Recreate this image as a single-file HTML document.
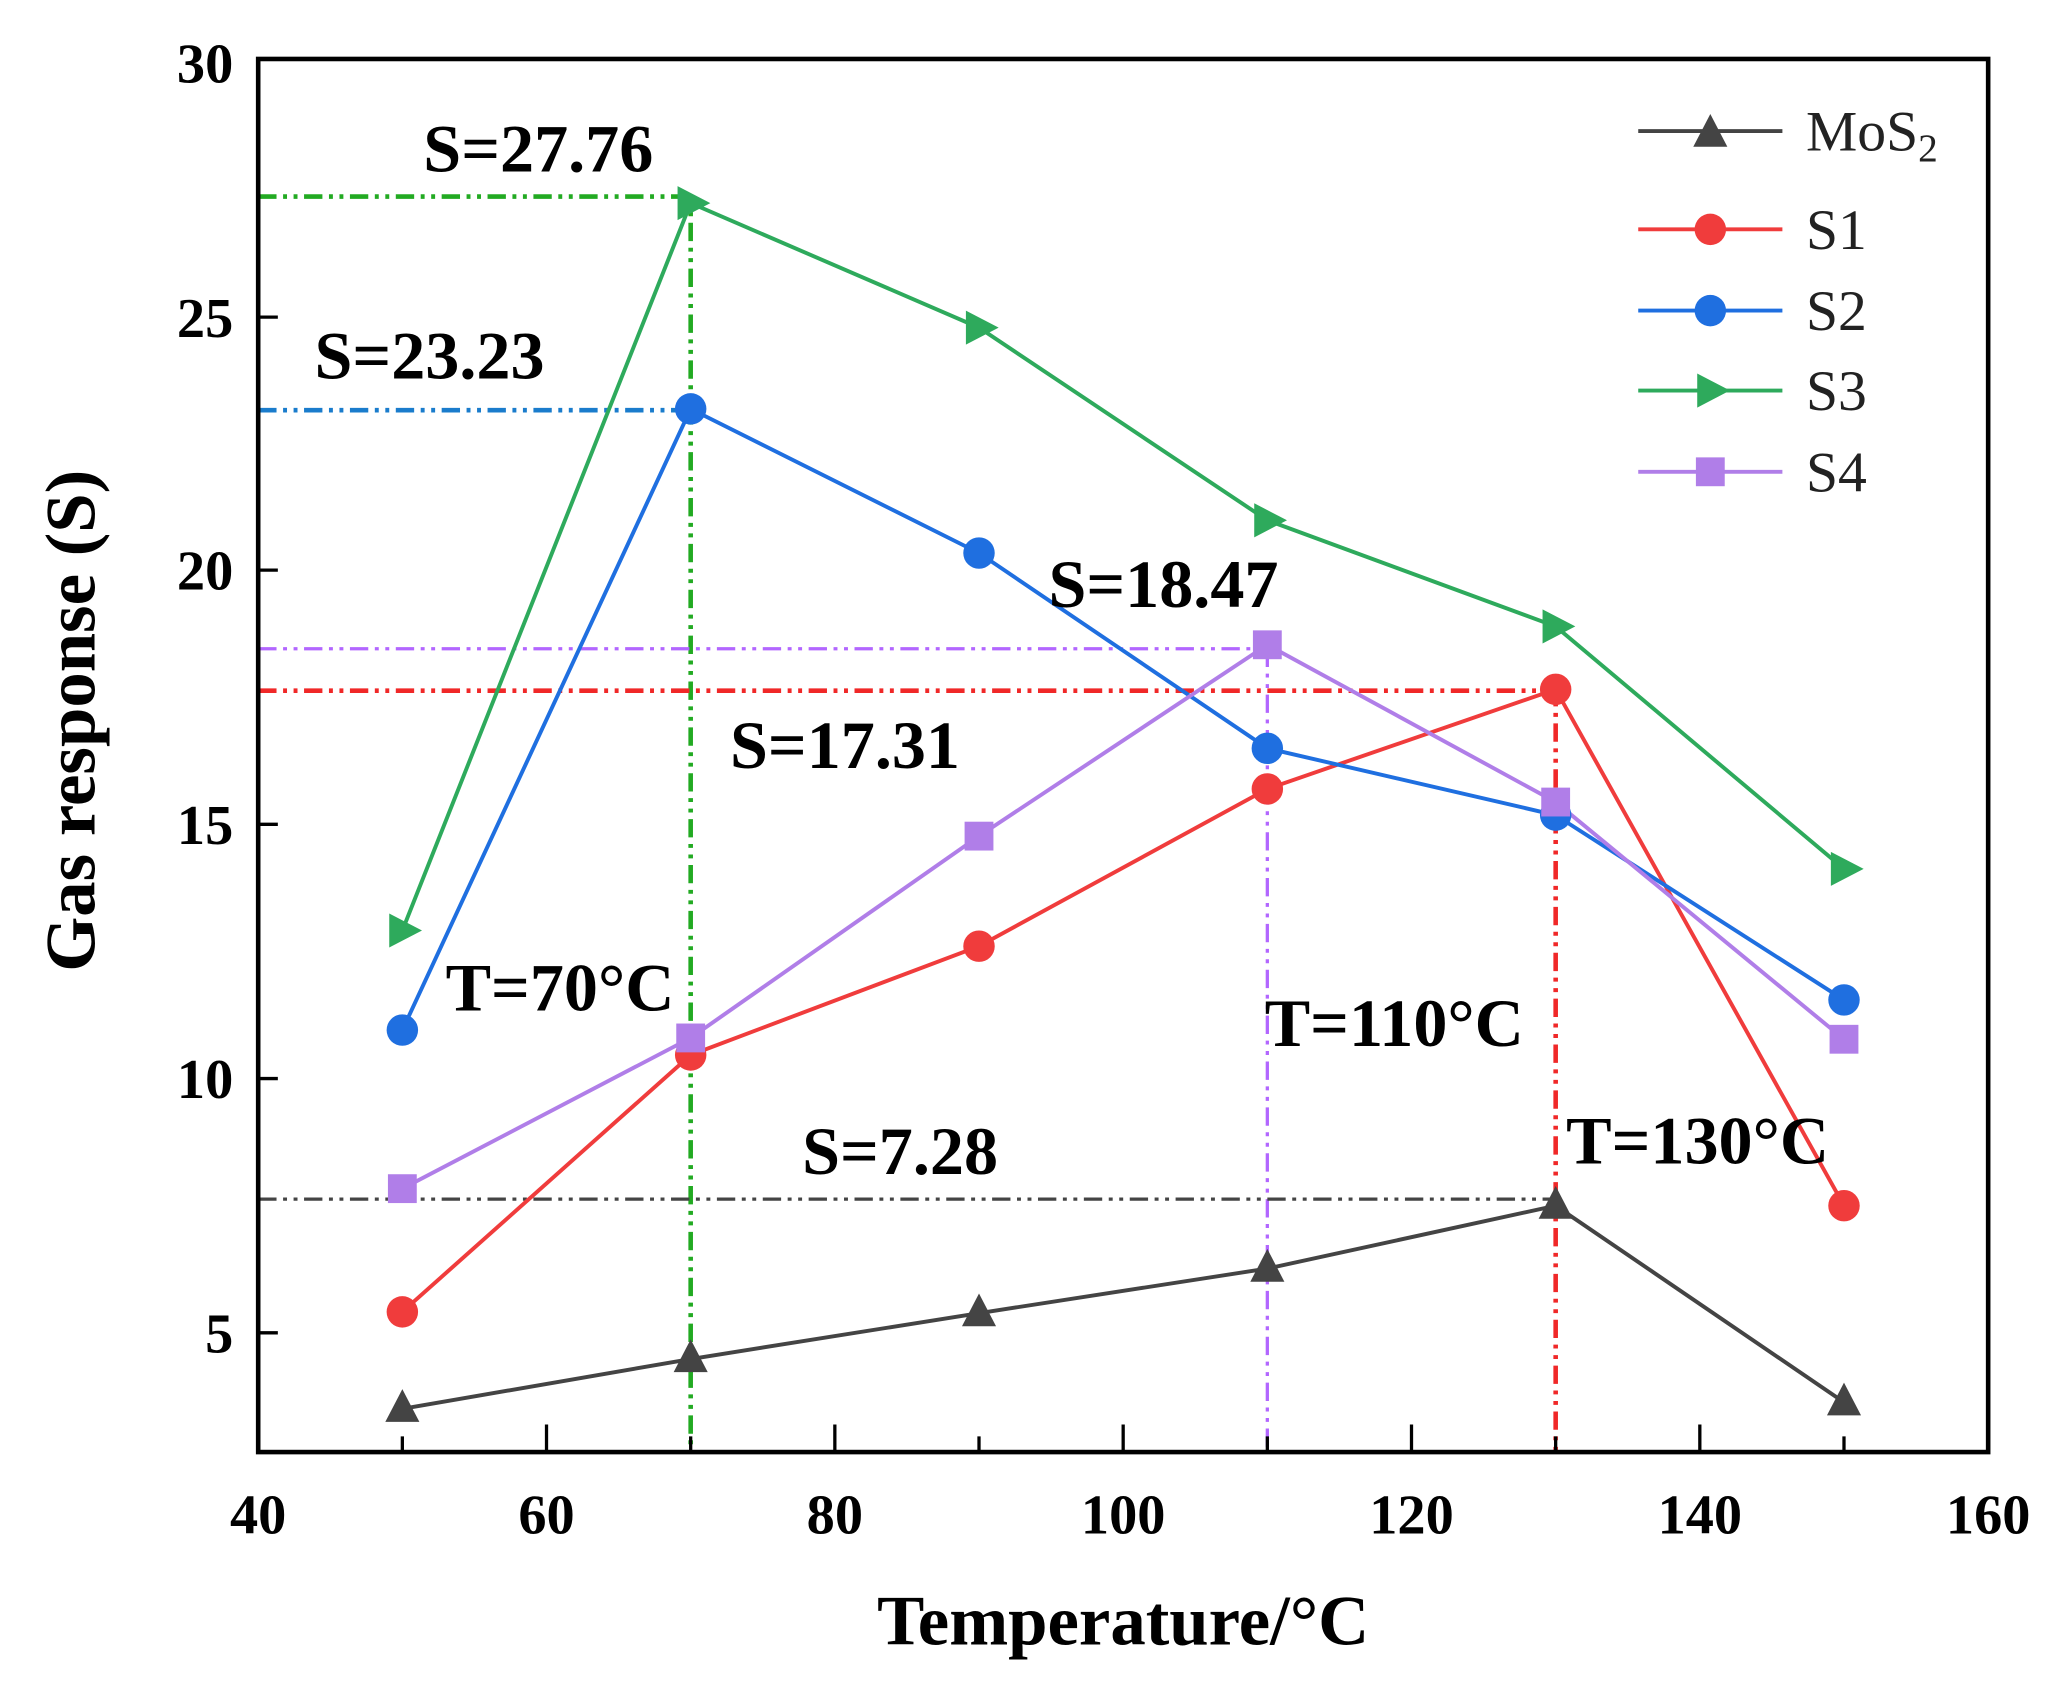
<!DOCTYPE html>
<html><head><meta charset="utf-8"><style>html,body{margin:0;padding:0;background:#fff}svg{display:block}</style></head>
<body>
<svg width="2055" height="1686" viewBox="0 0 1568 1286.5" preserveAspectRatio="none" xmlns="http://www.w3.org/2000/svg" font-family="'Liberation Serif',serif">
<rect width="1568" height="1287" fill="#fff"/>
<g fill="none" stroke-width="3.5" stroke-dasharray="14 5 3 5 3 5">
<path d="M197 150H527V1108" stroke="#22aa22"/>
<path d="M197 313H527" stroke="#1a7ccc"/>
<path d="M197 495H967V1108" stroke="#b266ff" stroke-width="2.5"/>
<path d="M197 527H1187V1108" stroke="#f02828"/>
<path d="M197 915H1187" stroke="#444" stroke-width="2.5"/>
</g>
<g fill="none" stroke-width="3">
<polyline points="307,1075 527,1037 747,1002 967,968 1187,920 1407,1070" stroke="#444"/>
<polyline points="307,1001 527,805 747,722 967,602 1187,526 1407,920" stroke="#f03c3c"/>
<polyline points="307,786 527,312 747,422 967,571 1187,622 1407,763" stroke="#1f6fe0"/>
<polyline points="307,710 527,155 747,250 967,397 1187,478 1407,663" stroke="#2eaa5c"/>
<polyline points="307,907 527,792 747,638 967,492 1187,612 1407,793" stroke="#b07ee8"/>
</g>
<g fill="#444">
<polygon points="307,1060 294,1085 320,1085"/><polygon points="527,1022 514,1047 540,1047"/><polygon points="747,987 734,1012 760,1012"/><polygon points="967,953 954,978 980,978"/><polygon points="1187,905 1174,930 1200,930"/><polygon points="1407,1055 1394,1080 1420,1080"/>
</g>
<g fill="#f03c3c"><circle cx="307" cy="1001" r="12"/><circle cx="527" cy="805" r="12"/><circle cx="747" cy="722" r="12"/><circle cx="967" cy="602" r="12"/><circle cx="1187" cy="526" r="12"/><circle cx="1407" cy="920" r="12"/></g>
<g fill="#1f6fe0"><circle cx="307" cy="786" r="12"/><circle cx="527" cy="312" r="12"/><circle cx="747" cy="422" r="12"/><circle cx="967" cy="571" r="12"/><circle cx="1187" cy="622" r="12"/><circle cx="1407" cy="763" r="12"/></g>
<g fill="#2eaa5c">
<polygon points="322,710 297,697 297,723"/><polygon points="542,155 517,142 517,168"/><polygon points="762,250 737,237 737,263"/><polygon points="982,397 957,384 957,410"/><polygon points="1202,478 1177,465 1177,491"/><polygon points="1422,663 1397,650 1397,676"/>
</g>
<g fill="#b07ee8"><rect x="296" y="896" width="22" height="22"/><rect x="516" y="781" width="22" height="22"/><rect x="736" y="627" width="22" height="22"/><rect x="956" y="481" width="22" height="22"/><rect x="1176" y="601" width="22" height="22"/><rect x="1396" y="782" width="22" height="22"/></g>
<rect x="197" y="45" width="1320" height="1063" fill="none" stroke="#000" stroke-width="3.5"/>
<g stroke="#000" stroke-width="2.5">
<path d="M197 1017h15M197 823h15M197 629h15M197 435h15M197 242h15"/>
<path d="M417 1108v-21M637 1108v-21M857 1108v-21M1077 1108v-21M1297 1108v-21"/>
<path d="M307 1108v-12M527 1108v-12M747 1108v-12M967 1108v-12M1187 1108v-12M1407 1108v-12"/>
</g>
<g font-size="43" font-weight="bold" text-anchor="end">
<text x="178" y="1032">5</text><text x="178" y="838">10</text><text x="178" y="644">15</text><text x="178" y="450">20</text><text x="178" y="257">25</text><text x="178" y="63">30</text>
</g>
<g font-size="43" font-weight="bold" text-anchor="middle">
<text x="197" y="1170">40</text><text x="417" y="1170">60</text><text x="637" y="1170">80</text><text x="857" y="1170">100</text><text x="1077" y="1170">120</text><text x="1297" y="1170">140</text><text x="1517" y="1170">160</text>
</g>
<text x="857" y="1255" font-size="54" font-weight="bold" text-anchor="middle">Temperature/°C</text>
<text transform="translate(72 550) rotate(-90)" font-size="54" font-weight="bold" text-anchor="middle">Gas response (S)</text>
<g font-size="52" font-weight="bold">
<text x="323" y="131">S=27.76</text>
<text x="240" y="289">S=23.23</text>
<text x="800" y="463">S=18.47</text>
<text x="557" y="586">S=17.31</text>
<text x="340" y="771">T=70°C</text>
<text x="965" y="798">T=110°C</text>
<text x="612" y="896">S=7.28</text>
<text x="1195" y="888">T=130°C</text>
</g>
<g stroke-width="3">
<line x1="1250" y1="100" x2="1360" y2="100" stroke="#444"/><polygon points="1305,87 1292,112 1318,112" fill="#444"/>
<line x1="1250" y1="175" x2="1360" y2="175" stroke="#f03c3c"/><circle cx="1305" cy="175" r="12" fill="#f03c3c"/>
<line x1="1250" y1="237" x2="1360" y2="237" stroke="#1f6fe0"/><circle cx="1305" cy="237" r="12" fill="#1f6fe0"/>
<line x1="1250" y1="298" x2="1360" y2="298" stroke="#2eaa5c"/><polygon points="1320,298 1295,285 1295,311" fill="#2eaa5c"/>
<line x1="1250" y1="360" x2="1360" y2="360" stroke="#b07ee8"/><rect x="1294" y="349" width="22" height="22" fill="#b07ee8"/>
</g>
<g font-size="44" fill="#222">
<text x="1378" y="115">MoS<tspan font-size="30" dy="8">2</tspan></text>
<text x="1378" y="190">S1</text>
<text x="1378" y="252">S2</text>
<text x="1378" y="313">S3</text>
<text x="1378" y="375">S4</text>
</g>
</svg>
</body></html>
